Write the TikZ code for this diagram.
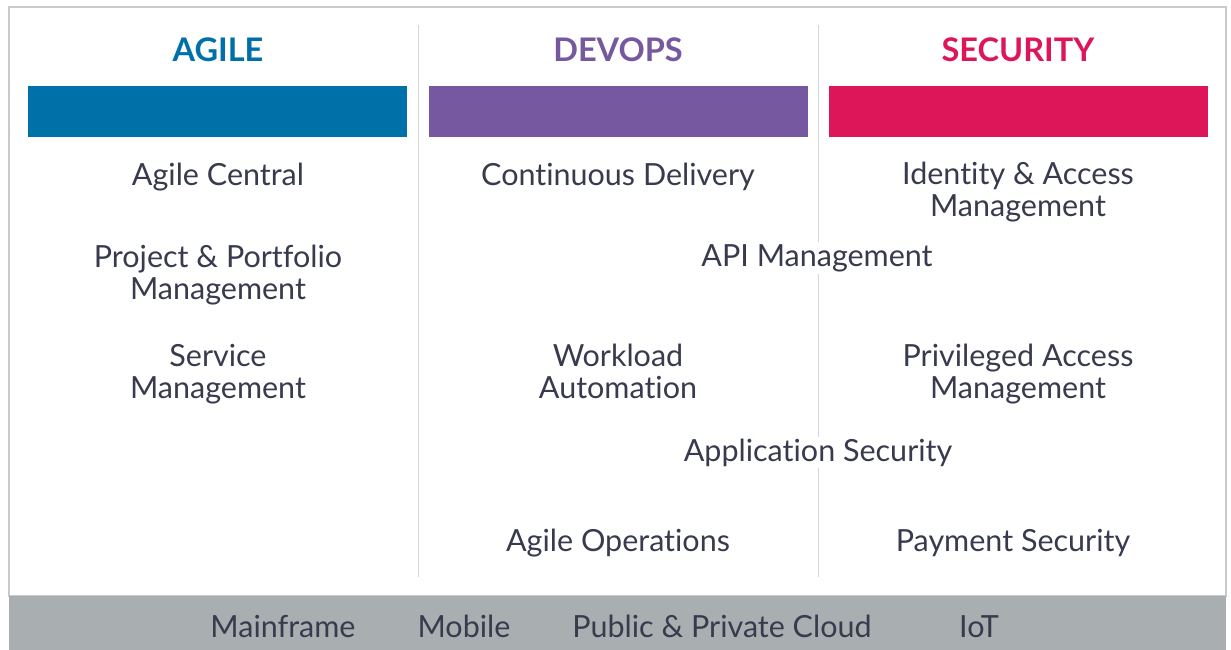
\documentclass[tikz,border=0pt]{standalone}
\usepackage{fontspec}
\setmainfont{Lato}[Ligatures={NoCommon,NoRare,NoContextual}]
\usetikzlibrary{positioning}

\definecolor{agileblue}{HTML}{0070A8}
\definecolor{devopspurple}{HTML}{7658A0}
\definecolor{securityred}{HTML}{DD1659}
\definecolor{itemtext}{HTML}{383A4E}
\definecolor{framegray}{HTML}{C8CACB}
\definecolor{bargray}{HTML}{A9AEB1}
\definecolor{rulegray}{HTML}{D6D6D6}

\begin{document}
\begin{tikzpicture}[x=1pt,y=-1pt,
  heading/.style={anchor=base,font=\fontsize{32.5}{33}\selectfont\bfseries},
  item/.style={anchor=base,align=center,text=itemtext,inner sep=2pt,
    font=\fontsize{30.5}{31.5}\selectfont},
  cross/.style={item,fill=white},
  colbar/.style={minimum width=379pt,minimum height=51pt,inner sep=0pt,anchor=north west}]

\useasboundingbox (0,0) rectangle (1231,650);

% frame and platform bar
\draw[framegray,line width=1.5pt] (9,7) rectangle (1226,596);
\fill[bargray] (9,596) rectangle (1226,650);

% column dividers
\coordinate (d1t) at (418,25);
\coordinate (d1b) at (418,577);
\coordinate (d2t) at (818,25);
\coordinate (d2b) at (818,577);
\draw[rulegray,line width=1pt] (d1t) -- (d1b);
\draw[rulegray,line width=1pt] (d2t) -- (d2b);

% headings
\node[heading,text=agileblue] (agile) at (218,62) {AGILE};
\node[heading,text=devopspurple] (devops) at (618,62) {DEVOPS};
\node[heading,text=securityred] (security) at (1018,62) {SECURITY};

\node[colbar,fill=agileblue] (agilebar) at (28,86) {};
\node[colbar,fill=devopspurple] (devopsbar) at (429,86) {};
\node[colbar,fill=securityred] (securitybar) at (829,86) {};

% agile (base = last line)
\node[item] (central) at (218,185) {Agile Central};
\node[item] (ppm) at (218,299) {Project \& Portfolio\\Management};
\node[item] (service) at (218,398) {Service\\Management};

% devops
\node[item] (delivery) at (618,185) {Continuous Delivery};
\node[item] (workload) at (618,398) {Workload\\Automation};
\node[item] (operations) at (618,551) {Agile Operations};

% security
\node[item] (identity) at (1018,216) {Identity \& Access\\Management};
\node[item] (privileged) at (1018,398) {Privileged Access\\Management};
\node[item] (payment) at (1013,551) {Payment Security};

% across devops and security
\node[cross] (api) at (817,266) {API Management};
\node[cross] (appsec) at (818,461) {Application Security};

% platforms
\node[item] (mainframe) at (283,637) {Mainframe};
\node[item] (mobile) at (464,637) {Mobile};
\node[item] (cloud) at (722,637) {Public \& Private Cloud};
\node[item] (iot) at (979,637) {IoT};

\end{tikzpicture}
\end{document}
